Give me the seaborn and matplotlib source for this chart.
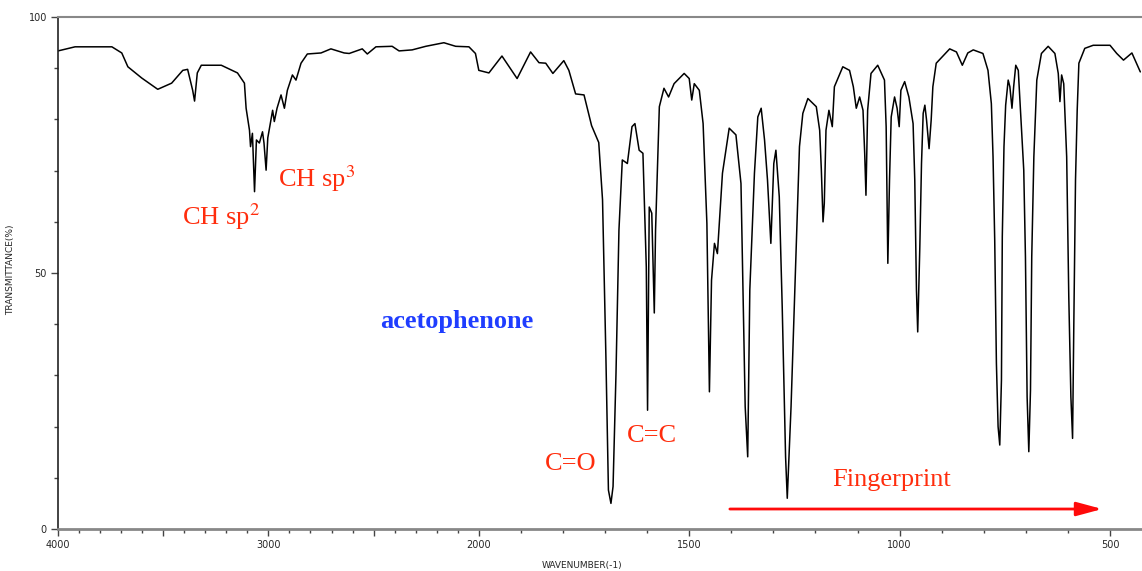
import numpy as np
import pandas as pd
import matplotlib
matplotlib.use("Agg")
import matplotlib.pyplot as plt
import seaborn as sns

# IR spectrum of acetophenone
wavenumber = [
    4000, 3919, 3744, 3697, 3668, 3602, 3526, 3460, 3407, 3384, 3360, 3351,
    3338, 3319, 3224, 3147, 3114, 3106, 3090, 3085, 3076, 3066, 3057, 3043,
    3028, 3021, 3011, 3003, 2980, 2972, 2959, 2940, 2924, 2910, 2886, 2869,
    2845, 2815, 2750, 2703, 2640, 2616, 2554, 2530, 2489, 2412, 2379, 2317,
    2252, 2166, 2110, 2047, 2016, 2000, 1976, 1945, 1909, 1877, 1857, 1841,
    1824, 1798, 1786, 1770, 1750, 1732, 1715, 1706, 1698, 1692, 1686, 1681,
    1674, 1667, 1659, 1647, 1636, 1629, 1619, 1610, 1602, 1599, 1595, 1589,
    1583, 1580, 1571, 1560, 1549, 1536, 1512, 1500, 1494, 1488, 1476, 1467,
    1458, 1452, 1447, 1440, 1433, 1421, 1405, 1389, 1377, 1367, 1361, 1356,
    1345, 1337, 1329, 1321, 1314, 1306, 1299, 1294, 1286, 1279, 1271, 1267,
    1258, 1246, 1238, 1230, 1218, 1198, 1190, 1186, 1182, 1179, 1175, 1168,
    1160, 1155, 1135, 1119, 1110, 1103, 1095, 1087, 1083, 1080, 1076, 1068,
    1052, 1036, 1032, 1028, 1024, 1020, 1012, 1006, 1001, 997, 988, 978,
    968, 964, 960, 957, 952, 948, 944, 940, 936, 930, 925, 921,
    913, 881, 865, 851, 838, 825, 802, 790, 782, 778, 774, 770,
    766, 762, 758, 756, 752, 748, 742, 738, 733, 729, 724, 718,
    712, 705, 701, 697, 693, 689, 686, 681, 674, 663, 647, 631,
    623, 619, 615, 610, 603, 598, 593, 589, 586, 582, 578, 574,
    560, 540, 500, 484, 468, 448, 428,
]
transmittance = [
    93.4, 94.2, 94.2, 93.0, 90.3, 88.1, 85.9, 87.1, 89.6, 89.8, 85.7, 83.6,
    89.1, 90.6, 90.6, 89.1, 87.1, 82.2, 77.9, 74.7, 77.3, 65.9, 76.0, 75.4,
    77.6, 75.4, 70.1, 76.4, 81.8, 79.6, 82.2, 84.8, 82.2, 85.7, 88.7, 87.7,
    91.0, 92.8, 93.0, 93.8, 93.0, 92.9, 93.8, 92.8, 94.2, 94.3, 93.4, 93.6,
    94.3, 95.0, 94.3, 94.2, 92.9, 89.6, 89.1, 92.4, 88.0, 93.2, 91.1, 91.0,
    89.0, 91.5, 89.6, 85.0, 84.8, 78.8, 75.5, 64.3, 33.7, 7.6, 5.0, 8.3,
    30.4, 58.4, 72.1, 71.4, 78.6, 79.2, 74.0, 73.4, 51.2, 23.2, 62.9, 61.7,
    42.2, 58.4, 82.5, 86.1, 84.4, 87.0, 89.0, 88.0, 83.8, 87.0, 85.7, 79.2,
    59.7, 26.8, 48.6, 55.8, 53.8, 69.5, 78.3, 77.0, 67.5, 23.9, 14.1, 46.7,
    69.5, 80.5, 82.2, 76.0, 68.2, 55.8, 71.4, 74.0, 64.9, 43.4, 14.1, 6.0,
    23.9, 54.0, 74.7, 81.2, 84.1, 82.5, 77.9, 70.1, 60.0, 63.6, 77.9, 81.8,
    78.6, 86.4, 90.3, 89.6, 86.4, 82.2, 84.4, 81.8, 73.4, 65.2, 81.8, 89.0,
    90.6, 87.7, 78.6, 51.9, 68.2, 80.5, 84.4, 82.2, 78.6, 85.7, 87.4, 84.4,
    79.2, 68.2, 46.7, 38.5, 55.1, 71.4, 81.2, 82.8, 79.9, 74.3, 79.9, 86.4,
    91.0, 93.8, 93.2, 90.6, 93.0, 93.6, 92.9, 89.6, 83.1, 72.7, 56.4, 32.4,
    20.0, 16.4, 29.1, 57.1, 74.7, 82.8, 87.7, 86.4, 82.2, 86.4, 90.6, 89.6,
    80.5, 70.1, 53.2, 25.8, 15.1, 27.1, 53.2, 72.7, 87.7, 92.9, 94.3, 92.9,
    89.0, 83.5, 88.7, 87.0, 72.7, 45.4, 25.8, 17.7, 40.2, 68.2, 81.8, 91.0,
    93.9, 94.5, 94.5, 92.9, 91.6, 93.0, 89.3,
]

labeled_ticks = [4000, 3000, 2000, 1500, 1000, 500]
mid_ticks = [3500, 2500]

spectrum = pd.DataFrame({"wavenumber": wavenumber, "transmittance": transmittance})

red = "#ff2d0d"
blue = "#1f3dff"


# the recorder doubles the scale below 2000 cm-1
def forward(x):
    x = np.asarray(x, dtype=float)
    return np.where(x >= 2000, x, 2 * x - 2000)


def inverse(y):
    y = np.asarray(y, dtype=float)
    return np.where(y >= 2000, y, (y + 2000) / 2)


sns.set_theme(style="white")
plt.rcParams["font.family"] = ["DejaVu Sans"]
plt.rcParams["mathtext.fontset"] = "stix"

fig = plt.figure(figsize=(11.42, 5.71), dpi=100)
ax = fig.add_axes([0.0508, 0.0736, 0.9492, 0.8964])

sns.lineplot(data=spectrum, x="wavenumber", y="transmittance", ax=ax,
             color="black", linewidth=1.1, sort=False, estimator=None)

ax.set_xscale("function", functions=(forward, inverse))
ax.set_xlim(4000, 424)
ax.set_ylim(0, 100)

ax.set_xticks(labeled_ticks + mid_ticks)
ax.set_xticklabels([str(t) for t in labeled_ticks] + ["" for _ in mid_ticks])
ax.set_xticks(np.arange(500, 4000, 100), minor=True)
ax.set_yticks([0, 50, 100])
ax.set_yticklabels(["0", "50", "100"])
ax.set_yticks(np.arange(0, 101, 10), minor=True)
ax.tick_params(axis="both", which="major", direction="out", length=5, width=1,
               labelsize=7, color="#444444", pad=3, bottom=True, left=True)
ax.tick_params(axis="both", which="minor", direction="out", length=3, width=1,
               color="#444444", bottom=True, left=True)

ax.spines["right"].set_visible(False)
ax.spines["left"].set_color("#222222")
ax.spines["left"].set_linewidth(1.2)
ax.spines["bottom"].set_color("#888888")
ax.spines["bottom"].set_linewidth(2)
ax.spines["top"].set_color("#888888")
ax.spines["top"].set_linewidth(1.5)

ax.set_xlabel("WAVENUMBER(-1)", fontsize=6.5)
ax.set_ylabel("TRANSMITTANCE(%)", fontsize=6.5)
ax.xaxis.set_label_coords(0.483, -0.062)
ax.yaxis.set_label_coords(-0.040, 0.506)

serif = ["Liberation Serif", "DejaVu Serif"]
ax.text(3412, 59.4, r"CH sp$^{2}$", color=red, fontsize=19, family=serif, va="baseline")
ax.text(2953, 66.8, r"CH sp$^{3}$", color=red, fontsize=19, family=serif, va="baseline")
ax.text(2469, 39.3, "acetophenone", color=blue, fontsize=19, family=serif,
        fontweight="bold", va="baseline")
ax.text(1843, 11.5, "C=O", color=red, fontsize=19, family=serif, va="baseline")
ax.text(1648, 17.0, "C=C", color=red, fontsize=19, family=serif, va="baseline")
ax.text(1159, 8.4, "Fingerprint", color=red, fontsize=19, family=serif, va="baseline")
ax.annotate("", xy=(512, 3.9), xytext=(1410, 3.9),
            arrowprops=dict(arrowstyle="-|>,head_length=1.3,head_width=0.35",
                            color="#ff0a0a", lw=2))

fig.savefig("out.png", dpi=100)
